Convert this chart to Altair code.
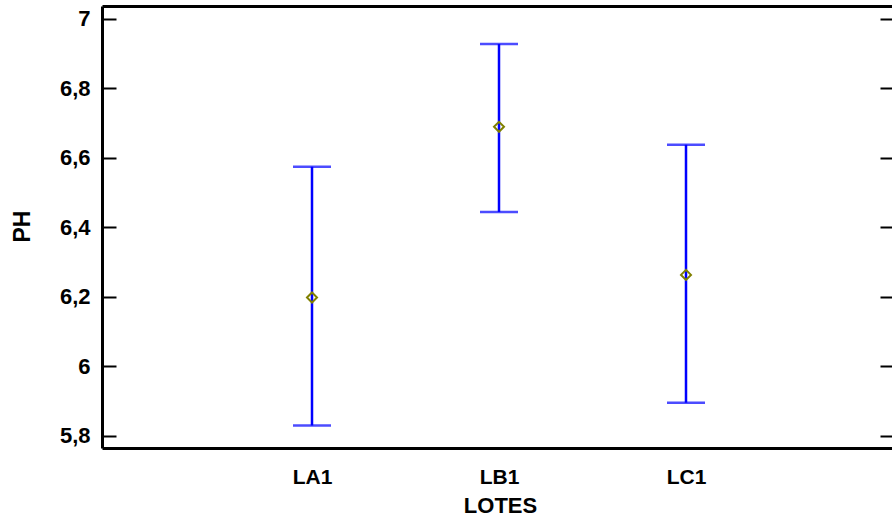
import altair as alt
import pandas as pd
import json

# ---- data ----
lotes = ["LA1", "LB1", "LC1"]
media = [6.198, 6.689, 6.263]
inferior = [5.830, 6.444, 5.895]
superior = [6.574, 6.927, 6.637]
y_ticks = [5.8, 6.0, 6.2, 6.4, 6.6, 6.8, 7.0]

df = pd.DataFrame({"LOTES": lotes, "media": media, "inf": inferior, "sup": superior})

FONT = "Liberation Sans"
BLUE = "#0000ff"
OLIVE = "#808000"

lotes_js = json.dumps(lotes)
xscale = alt.Scale(domain=[-1.123, 3.1016], nice=False, zero=False)
yscale = alt.Scale(domain=[5.765, 7.0365], nice=False, zero=False)
y_label_expr = "replace(format(datum.value, '~g'), '.', ',')"
x_label_expr = f"{lotes_js}[datum.value]"

base = alt.Chart(df).transform_calculate(
    idx=f"indexof({lotes_js}, datum.LOTES)"
)

# error bars (vertical rules) + bottom axis + left tick labels
rules = base.mark_rule(color=BLUE, strokeWidth=2.5).encode(
    x=alt.X("idx:Q", scale=xscale,
            axis=alt.Axis(orient="bottom", title="LOTES", grid=False,
                          values=list(range(len(lotes))), labelExpr=x_label_expr,
                          domain=True, domainColor="black", domainWidth=3,
                          ticks=False, tickSize=0,
                          labelFont=FONT, labelFontSize=21, labelFontWeight="bold",
                          labelColor="black", labelAngle=0, labelAlign="center",
                          labelBaseline="alphabetic", labelPadding=35,
                          labelFlush=False, labelOverlap=False,
                          titleFont=FONT, titleFontSize=22, titleFontWeight="bold",
                          titleColor="black", titleX=398, titleY=64,
                          titleBaseline="alphabetic", titleAlign="center")),
    y=alt.Y("inf:Q", scale=yscale,
            axis=alt.Axis(orient="left", offset=-14, values=y_ticks, grid=False,
                          domain=False, ticks=True, tickSize=14, tickWidth=2,
                          tickColor="black", labelExpr=y_label_expr,
                          labelFont=FONT, labelFontSize=22, labelFontWeight="bold",
                          labelColor="black", labelPadding=12, title=None)),
    y2="sup:Q",
)

# upper caps + top border + right ticks
caps_top = base.mark_tick(color=BLUE, size=38, thickness=2.5, orient="horizontal").encode(
    x=alt.X("idx:Q", scale=xscale,
            axis=alt.Axis(orient="top", title=None, grid=False,
                          domain=True, domainColor="black", domainWidth=3,
                          ticks=False, labels=False)),
    y=alt.Y("sup:Q", scale=yscale,
            axis=alt.Axis(orient="right", offset=-12, values=y_ticks, grid=False,
                          domain=False, ticks=True, tickSize=12, tickWidth=2,
                          tickColor="black", labels=False, title=None)),
)

# lower caps + left border + y title
caps_bot = base.mark_tick(color=BLUE, size=38, thickness=2.5, orient="horizontal").encode(
    x=alt.X("idx:Q", scale=xscale, axis=None),
    y=alt.Y("inf:Q", scale=yscale,
            axis=alt.Axis(orient="left", offset=0, grid=False,
                          domain=True, domainColor="black", domainWidth=3,
                          ticks=False, labels=False, title="PH",
                          titleFont=FONT, titleFontSize=23, titleFontWeight="bold",
                          titleColor="black", titleX=-80, titleY=220,
                          titleAngle=270, titleAlign="center",
                          titleBaseline="middle")),
)

# means
points = base.mark_point(shape="diamond", filled=False, color=OLIVE,
                         strokeWidth=2, size=100, opacity=1).encode(
    x=alt.X("idx:Q", scale=xscale, axis=None),
    y=alt.Y("media:Q", scale=yscale, axis=None),
)

chart = alt.layer(rules, caps_top, caps_bot, points).resolve_axis(
    x="independent", y="independent"
).properties(
    width=790, height=442,
    autosize=alt.AutoSizeParams(type="none"),
    padding={"left": 102, "top": 6, "right": 0, "bottom": 70},
    background="white",
).configure_view(stroke=None)

chart.save("out.html", embed_options={"renderer": "svg", "actions": False})
